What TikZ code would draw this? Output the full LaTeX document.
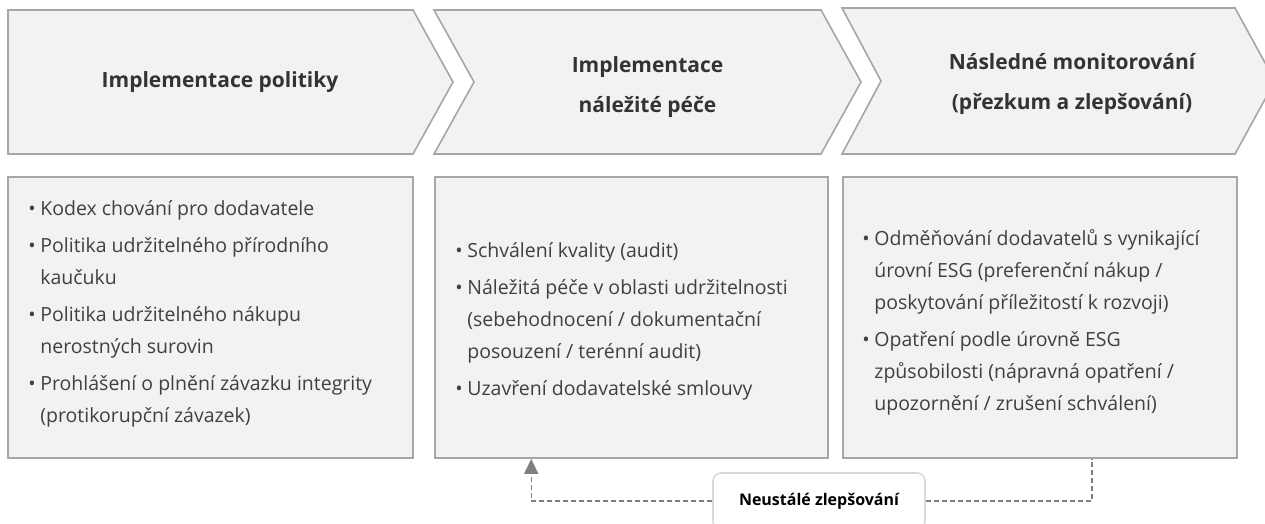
\documentclass[tikz,border=0pt]{standalone}
\usepackage{fontspec}
\setmainfont{Open Sans}
\usetikzlibrary{arrows.meta}
\definecolor{PanelFill}{HTML}{F2F2F2}
\definecolor{PanelLine}{HTML}{A6A6A6}
\definecolor{LoopGrey}{HTML}{808080}
\definecolor{TagLine}{HTML}{D9D9D9}
\definecolor{HeadText}{HTML}{333333}
\definecolor{BodyText}{HTML}{404040}
\colorlet{ColourFill}{PanelFill}
\colorlet{ColourLine}{PanelLine}
\tikzset{
  stage/.style={
    fill=ColourFill,
    draw=ColourLine,
    line width=1.6pt,
  },
  stage title/.style={
    text=HeadText,
    font=\bfseries\fontsize{21}{40}\selectfont,
    align=center,
    inner sep=0pt,
  },
  panel/.style={
    stage,
    rectangle,
    inner sep=0pt,
    minimum height=281pt,
  },
  panel text/.style={
    text=BodyText,
    font=\fontsize{19.5}{32}\selectfont,
    align=left,
    inner sep=0pt,
    anchor=west,
  },
}
\tikzset{
  tag/.style={
    fill=white,
    draw=TagLine,
    line width=1.6pt,
    rounded corners=8pt,
    minimum width=212pt,
    minimum height=56pt,
    font=\bfseries\fontsize{16}{18}\selectfont,
  },
  loop line/.style={
    draw=LoopGrey,
    line width=1.4pt,
    dash pattern=on 5pt off 3pt,
  },
}
\newcommand\bul{\makebox[12pt][l]{\textbullet}}
\newcommand\cont{\hspace*{12pt}}

\begin{document}
\begin{tikzpicture}[x=1pt,y=-1pt]
  \clip (0,0) rectangle (1265,523);
  % chevrons
  \draw[stage] (8,10) -- (413,10) -- (453,82) -- (413,154) -- (8,154) -- cycle;
  \draw[stage] (434,10) -- (821,10) -- (861,82) -- (821,154) -- (434,154) -- (474,82) -- cycle;
  \draw[stage] (842,8) -- (1235,8) -- (1275,81) -- (1235,154) -- (842,154) -- (881,81) -- cycle;
  \node[stage title] (h1) at (220,82) {Implementace politiky};
  \node[stage title] (h2) at (647.5,87.5) {Implementace\\náležité péče};
  \node[stage title] (h3) at (1072,84) {Následné monitorování\\(přezkum a zlepšování)};
  % panels
  \node[panel, minimum width=405pt] (box1) at (210.5,317.5) {};
  \node[panel, minimum width=393pt] (box2) at (631.5,317.5) {};
  \node[panel, minimum width=394pt] (box3) at (1040,317.5) {};
  \node[panel text] (t1) at ([xshift=21pt,yshift=3.5pt]box1.west) {%
    \bul Kodex chování pro dodavatele\\[5pt]
    \bul Politika udržitelného přírodního\\
    \cont kaučuku\\[5pt]
    \bul Politika udržitelného nákupu\\
    \cont nerostných surovin\\[5pt]
    \bul Prohlášení o plnění závazku integrity\\
    \cont (protikorupční závazek)};
  \node[panel text] (t2) at ([xshift=21pt,yshift=-3.5pt]box2.west) {%
    \bul Schválení kvality (audit)\\[5pt]
    \bul Náležitá péče v oblasti udržitelnosti\\
    \cont (sebehodnocení / dokumentační\\
    \cont posouzení / terénní audit)\\[5pt]
    \bul Uzavření dodavatelské smlouvy};
  \node[panel text] (t3) at ([xshift=20pt,yshift=-4.5pt]box3.west) {%
    \bul Odměňování dodavatelů s vynikající\\
    \cont úrovní ESG (preferenční nákup /\\
    \cont poskytování příležitostí k rozvoji)\\[5pt]
    \bul Opatření podle úrovně ESG\\
    \cont způsobilosti (nápravná opatření /\\
    \cont upozornění / zrušení schválení)};
  % feedback loop
  \node[tag] (loop) at (819,501) {Neustálé zlepšování};
  \draw[loop line, -{Triangle[length=15pt,width=14pt]}, LoopGrey]
    (loop.west) -| ([xshift=97pt]box2.south west);
  \draw[loop line] (loop.east) -| ([xshift=-146pt]box3.south east);
\end{tikzpicture}
\end{document}
